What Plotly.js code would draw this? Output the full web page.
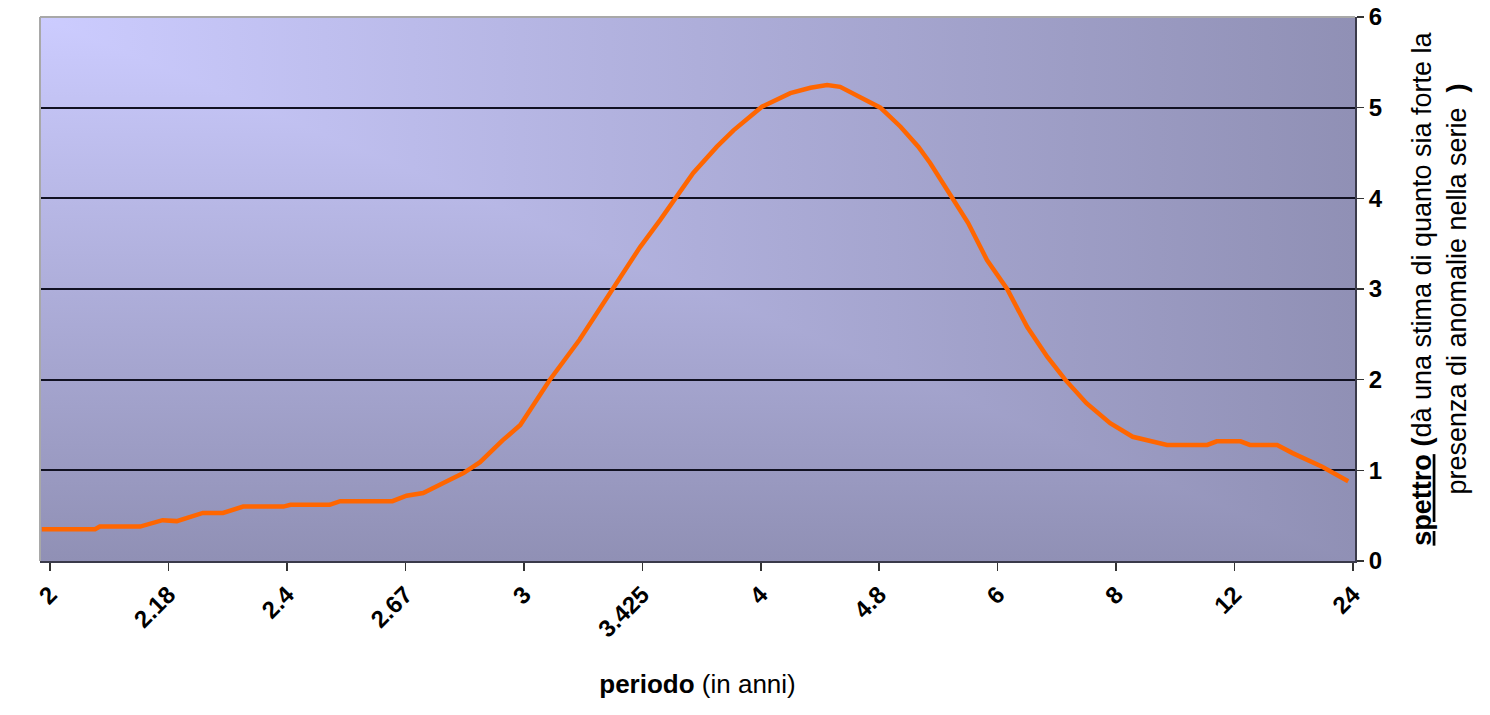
<!DOCTYPE html>
<html>
<head>
<meta charset="utf-8">
<script src="https://cdn.plot.ly/plotly-3.0.1.min.js"></script>
<style>
  html, body { margin: 0; padding: 0; background: #ffffff; }
  #chart { width: 1490px; height: 715px; }
</style>
</head>
<body>
<div id="chart"></div>
<script>
// Harmonic number (cycles in 24 years); the axis is linear in frequency
const harmonic = [12.07, 11.62, 11.58, 11.24, 11.05, 10.93, 10.71, 10.54, 10.37, 10.03,
  9.97, 9.64, 9.55, 9.11, 8.99, 8.85, 8.68, 8.51, 8.37, 8.18,
  8.03, 7.78, 7.53, 7.25, 7.02, 6.85, 6.72, 6.57, 6.37, 6.23,
  5.99, 5.75, 5.58, 5.44, 5.33, 5.16, 4.99, 4.82, 4.67, 4.57,
  4.38, 4.25, 4.09, 3.92, 3.75, 3.58, 3.43, 3.25, 3.05, 2.86,
  2.57, 2.23, 2.15, 1.95, 1.87, 1.64, 1.51, 1.26, 1.04];
const spectrum = [0.35, 0.35, 0.38, 0.38, 0.45, 0.44, 0.53, 0.53, 0.60, 0.60,
  0.62, 0.62, 0.66, 0.66, 0.72, 0.75, 0.86, 0.97, 1.09, 1.33,
  1.50, 2.00, 2.44, 3.00, 3.46, 3.76, 4.00, 4.28, 4.57, 4.75,
  5.01, 5.16, 5.22, 5.25, 5.23, 5.11, 5.00, 4.79, 4.57, 4.39,
  4.00, 3.73, 3.32, 3.00, 2.58, 2.25, 2.00, 1.74, 1.52, 1.37,
  1.28, 1.28, 1.32, 1.32, 1.28, 1.28, 1.19, 1.04, 0.88];
const tickPos = [12, 11, 10, 9, 8, 7, 6, 5, 4, 3, 2, 1];
const tickLabels = ['2', '2.18', '2.4', '2.67', '3', '3.425', '4', '4.8', '6', '8', '12', '24'];
const yTicks = [0, 1, 2, 3, 4, 5, 6];
const yTickLabels = ['0', '1', '2', '3', '4', '5', '6'];

const lightC = '#ccccff', darkC = '#9090b5';
const svg = "<svg xmlns='http://www.w3.org/2000/svg' width='1315' height='544' viewBox='0 0 1 1' preserveAspectRatio='none'>" +
  "<defs><linearGradient id='h' x1='0' y1='0' x2='1' y2='0'><stop offset='0' stop-color='" + lightC + "'/><stop offset='1' stop-color='" + darkC + "'/></linearGradient>" +
  "<linearGradient id='v' x1='0' y1='0' x2='0' y2='1'><stop offset='0' stop-color='" + lightC + "'/><stop offset='1' stop-color='" + darkC + "'/></linearGradient></defs>" +
  "<rect x='0' y='0' width='1' height='1' fill='url(#v)'/>" +
  "<polygon points='0,0 1,0 1,1' fill='url(#h)'/></svg>";
const bgSrc = 'data:image/svg+xml;charset=utf-8,' + encodeURIComponent(svg);

const FONT = 'Liberation Sans, Arial, sans-serif';
const bold = s => '<b>' + s + '</b>';

const trace = {
  x: harmonic,
  y: spectrum,
  type: 'scatter',
  mode: 'lines',
  line: { color: '#ff6600', width: 4.5 },
  hoverinfo: 'skip',
  showlegend: false
};

const layout = {
  width: 1490,
  height: 715,
  margin: { l: 40, r: 135, t: 17, b: 154 },
  paper_bgcolor: '#ffffff',
  plot_bgcolor: 'rgba(0,0,0,0)',
  font: { family: FONT, color: '#000000', size: 18 },
  showlegend: false,
  images: [{
    source: bgSrc, xref: 'paper', yref: 'paper', x: 0, y: 1, sizex: 1, sizey: 1,
    xanchor: 'left', yanchor: 'top', sizing: 'stretch', layer: 'below'
  }],
  xaxis: {
    range: [12.085, 0.983],
    tickmode: 'array',
    tickvals: tickPos,
    ticktext: tickLabels.map(bold),
    tickangle: -45,
    tickfont: { family: FONT, size: 24, color: '#000000' },
    ticks: 'outside', ticklen: 8, tickwidth: 1.5, tickcolor: '#333333',
    showgrid: false, zeroline: false,
    showline: true, linecolor: '#3a3a4a', linewidth: 2,
    title: { text: '<b>periodo</b> (in anni)', font: { family: FONT, size: 26, color: '#000000' }, standoff: 34 },
    automargin: false,
    fixedrange: true
  },
  yaxis: {
    side: 'right',
    range: [0, 6],
    tickmode: 'array',
    tickvals: yTicks,
    ticktext: yTickLabels.map(bold),
    tickfont: { family: FONT, size: 24, color: '#000000' },
    ticks: 'outside', ticklen: 7, tickwidth: 1.5, tickcolor: '#333333',
    showgrid: true, gridcolor: '#111122', gridwidth: 2,
    zeroline: false,
    showline: true, linecolor: '#3a3a4a', linewidth: 2,
    title: {
      text: "<b><u>spettro</u></b> <b>(</b>dà una stima di quanto sia forte la<br>presenza di anomalie nella serie  <b>)</b>",
      font: { family: FONT, size: 27, color: '#000000' },
      standoff: 30
    },
    automargin: false,
    fixedrange: true
  },
  shapes: [
    { type: 'line', xref: 'paper', yref: 'paper', x0: 0, x1: 1, y0: 1, y1: 1, line: { color: '#a8a8a8', width: 2 } },
    { type: 'line', xref: 'paper', yref: 'paper', x0: 0, x1: 0, y0: 0, y1: 1, line: { color: '#a8a8a8', width: 2 } }
  ]
};

Plotly.newPlot('chart', [trace], layout, { displayModeBar: false, staticPlot: true });
</script>
</body>
</html>
